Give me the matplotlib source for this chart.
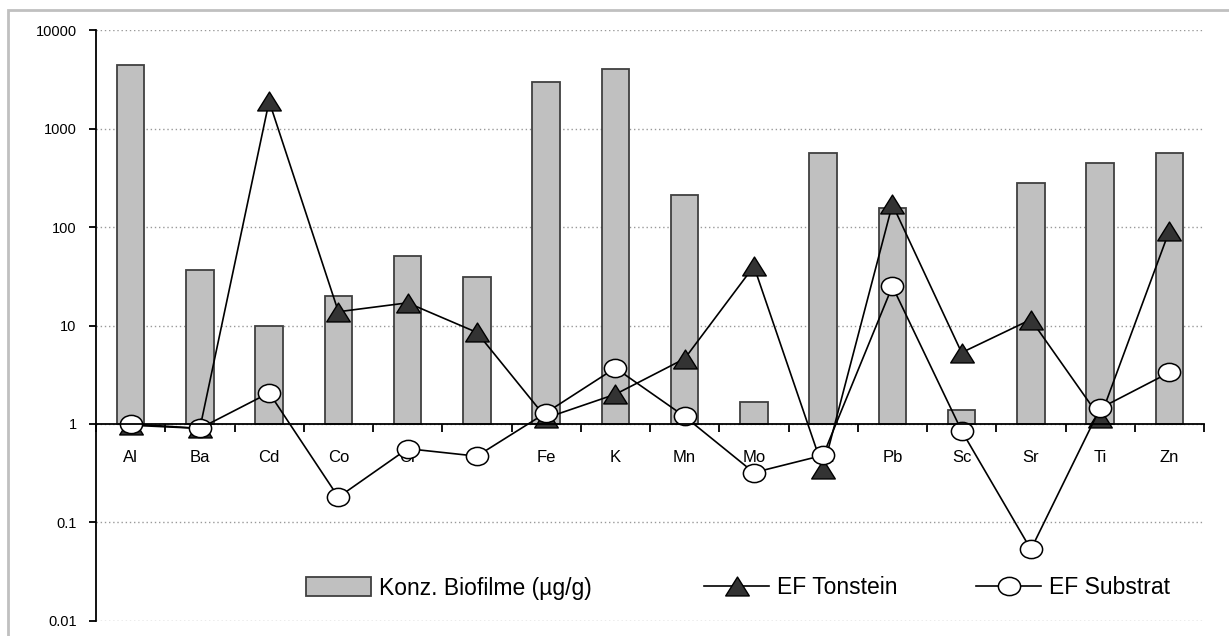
import numpy as np
import matplotlib
matplotlib.use("Agg")
from matplotlib import pyplot as plt
from matplotlib.path import Path
from matplotlib.patches import Rectangle
from matplotlib.ticker import FixedLocator, FuncFormatter

elements = ['Al', 'Ba', 'Cd', 'Co', 'Cr', 'Cu', 'Fe', 'K', 'Mn', 'Mo',
            'Na', 'Pb', 'Sc', 'Sr', 'Ti', 'Zn']
konz = [4400, 37, 10, 20, 51, 31, 3000, 4000, 210, 1.67,
        560, 158, 1.4, 280, 445, 560]
ef_tonstein = [0.97, 0.9, 1900, 13.8, 17, 8.5, 1.15, 2.0, 4.6, 40,
               0.35, 170, 5.3, 11.5, 1.15, 92]
ef_substrat = [1.0, 0.9, 2.07, 0.18, 0.56, 0.47, 1.3, 3.7, 1.19, 0.32,
               0.48, 25, 0.85, 0.053, 1.44, 3.33]
y_ticks = [0.01, 0.1, 1, 10, 100, 1000, 10000]

plt.rcParams['font.family'] = ['Liberation Sans', 'DejaVu Sans']

# custom marker shapes (slightly flattened like the original)
tri = Path([(0, 0.4), (-0.5, -0.4), (0.5, -0.4), (0, 0.4)],
           [Path.MOVETO, Path.LINETO, Path.LINETO, Path.CLOSEPOLY])
circ = Path.unit_circle()
ell = Path(circ.vertices * np.array([1.0, 0.82]), circ.codes)

fig = plt.figure(figsize=(12.29, 6.36), dpi=100)
ax = fig.add_axes([96/1229, 15.3/636, 1108/1229, 590.4/636])

x = np.arange(len(elements))
heights = np.array(konz) - 1
bars = ax.bar(x, heights, bottom=1, width=0.4, color='#c0c0c0',
              edgecolor='#404040', linewidth=1.3, zorder=2,
              label='Konz. Biofilme (µg/g)')
l1, = ax.plot(x, ef_tonstein, color='black', lw=1.2, marker=tri,
              markersize=17, markerfacecolor='#333333',
              markeredgecolor='black', markeredgewidth=1.0, zorder=3,
              label='EF Tonstein')
l2, = ax.plot(x, ef_substrat, color='black', lw=1.2, marker=ell,
              markersize=16, markerfacecolor='white',
              markeredgecolor='black', markeredgewidth=1.1, zorder=4,
              label='EF Substrat')

ax.set_yscale('log')
ax.set_ylim(0.01, 10000)
ax.set_xlim(-0.5, len(elements) - 0.5)

ax.yaxis.set_major_locator(FixedLocator(y_ticks))
ax.yaxis.set_minor_locator(FixedLocator([]))
ax.yaxis.set_major_formatter(FuncFormatter(lambda v, p: ('%g' % v)))
ax.tick_params(axis='y', which='major', direction='out', length=5,
               width=1.3, pad=9, labelsize=10.5, colors='black')
ax.yaxis.grid(True, linestyle=(0, (1, 2)), color='#999999', lw=1, zorder=0)

ax.set_xticks(x)
ax.set_xticklabels(elements)
ax.set_xticks(np.arange(len(elements) + 1) - 0.5, minor=True)
ax.tick_params(axis='x', which='major', length=0, pad=19, labelsize=12)
ax.tick_params(axis='x', which='minor', direction='out', length=6, width=1.3)

ax.spines['top'].set_visible(False)
ax.spines['right'].set_visible(False)
ax.spines['bottom'].set_position(('data', 1))
ax.spines['bottom'].set_linewidth(1.3)
ax.spines['left'].set_linewidth(1.3)
ax.spines['bottom'].set_zorder(5)

# legends placed separately, like the original spacing
leg_kw = dict(loc='center left', frameon=False, fontsize=16.5,
              handlelength=2.85, handleheight=0.9, handletextpad=0.35,
              borderpad=0, borderaxespad=0, numpoints=1,
              bbox_transform=fig.transFigure)
y_leg = (636 - 588) / 636
lg1 = ax.legend(handles=[bars], bbox_to_anchor=(306/1229, y_leg), **leg_kw)
ax.add_artist(lg1)
lg2 = ax.legend(handles=[l1], bbox_to_anchor=(704/1229, y_leg), **leg_kw)
ax.add_artist(lg2)
lg3 = ax.legend(handles=[l2], bbox_to_anchor=(976/1229, y_leg), **leg_kw)

# light grey chart-area frame
fig.patches.append(Rectangle((8/1229, -0.1), 1.2, (626/636) + 0.1,
                             transform=fig.transFigure, fill=False,
                             edgecolor='#c0c0c0', linewidth=2))

fig.savefig('out.png', dpi=100)
